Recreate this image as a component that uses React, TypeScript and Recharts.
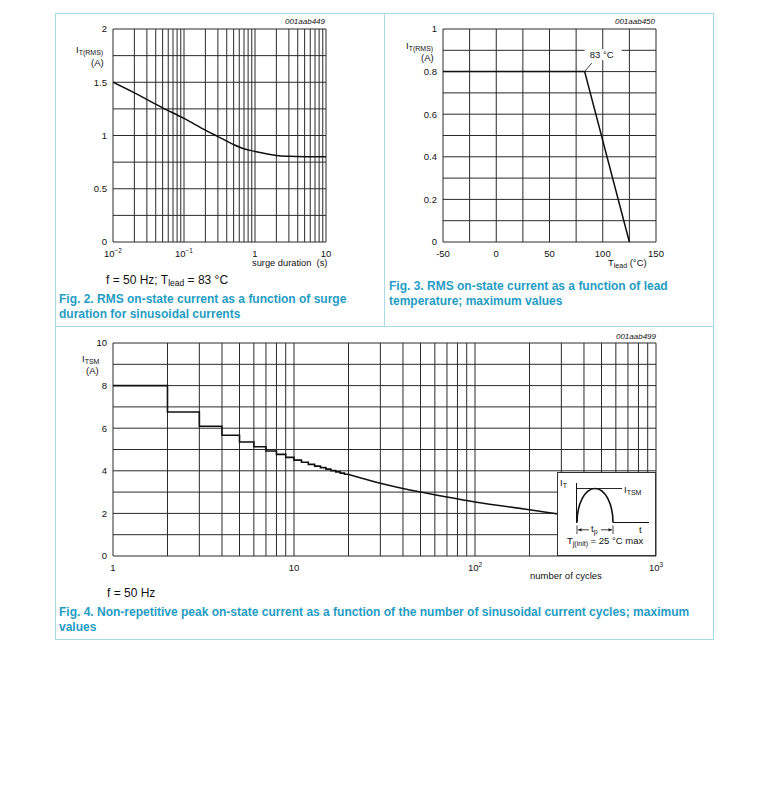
import { LineChart, Line, XAxis, YAxis, CartesianGrid, ReferenceDot } from "recharts";

// Fig. 2 - RMS on-state current vs surge duration
const surgeDuration = [0.01, 0.02, 0.05, 0.1, 0.2, 0.3, 0.5, 0.7, 1, 1.5, 2, 3, 5, 10];
const itRmsSurge = [1.5, 1.4, 1.26, 1.16, 1.05, 0.99, 0.915, 0.875, 0.85, 0.826, 0.812, 0.804, 0.8, 0.8];

// Fig. 3 - RMS on-state current vs lead temperature
const leadTemp = [-50, 83, 125];
const itRmsLead = [0.8, 0.8, 0];

// Fig. 4 - ITSM vs number of cycles (stepped part, then smooth part)
const stepCycles = [1, 2, 3, 4, 5, 6, 7, 8, 9, 10, 11, 12, 13, 14, 15, 16, 17, 18, 19, 20];
const itsmStep = [8.0, 6.76, 6.09, 5.67, 5.35, 5.13, 4.93, 4.77, 4.63, 4.5, 4.4, 4.3, 4.22, 4.15, 4.08, 4.01, 3.95, 3.89, 3.84, 3.83];
const curveCycles = [20, 30, 50, 70, 100, 200, 300];
const itsmCurve = [3.83, 3.42, 3.0, 2.77, 2.54, 2.17, 1.95];

// ticks / grid
const surgeTicks = [0.01, 0.02, 0.03, 0.04, 0.05, 0.06, 0.07, 0.08, 0.09, 0.1, 0.2, 0.3, 0.4, 0.5, 0.6, 0.7, 0.8, 0.9, 1, 2, 3, 4, 5, 6, 7, 8, 9, 10];
const surgeDecades = [0.01, 0.1, 1, 10];
const surgeDecadeLabels = [["10", "−2"], ["10", "−1"], ["1", ""], ["10", ""]];
const surgeYTicks = [0, 0.25, 0.5, 0.75, 1, 1.25, 1.5, 1.75, 2];
const surgeYLabels = [0, 0.5, 1, 1.5, 2];

const leadTicks = [-50, -25, 0, 25, 50, 75, 100, 125, 150];
const leadLabels = [-50, 0, 50, 100, 150];
const leadYTicks = [0, 0.1, 0.2, 0.3, 0.4, 0.5, 0.6, 0.7, 0.8, 0.9, 1];
const leadYLabels = [0, 0.2, 0.4, 0.6, 0.8, 1];

const cycleTicks = [1, 2, 3, 4, 5, 6, 7, 8, 9, 10, 20, 30, 40, 50, 60, 70, 80, 90, 100, 200, 300, 400, 500, 600, 700, 800, 900, 1000];
const cycleDecades = [1, 10, 100, 1000];
const cycleDecadeLabels = [["1", ""], ["10", ""], ["10", "2"], ["10", "3"]];
const itsmYTicks = [0, 1, 2, 3, 4, 5, 6, 7, 8, 9, 10];
const itsmYLabels = [0, 2, 4, 6, 8, 10];

const FONT = '"Liberation Sans", Arial, sans-serif';
const GRID = "#2a2a2a";
const INK = "#111";
const TEAL = "#1f9cc4";
const FRAME = "#a8dbe7";

const near = (a: number, b: number) => Math.abs(a - b) < Math.max(Math.abs(b), 1) * 1e-6;

const logTick = (decades: number[], labels: string[][]) => (props: any) => {
  const { x, y, payload } = props;
  const i = decades.findIndex((d) => near(payload.value, d));
  if (i < 0) return <g />;
  const [base, exp] = labels[i];
  return (
    <text x={x} y={y} dy="0.71em" textAnchor="middle" fontSize={9.5} fill={INK} fontFamily={FONT}>
      {base}
      {exp ? <tspan dy={-3.5} fontSize={6.5}>{exp}</tspan> : null}
    </text>
  );
};

const linTick = (shown: number[]) => (props: any) => {
  const { x, y, payload } = props;
  if (!shown.some((s) => near(payload.value, s))) return <g />;
  return (
    <text x={x} y={y} dy="0.71em" textAnchor="middle" fontSize={9.5} fill={INK} fontFamily={FONT}>
      {String(payload.value)}
    </text>
  );
};

const yTick = (shown: number[]) => (props: any) => {
  const { x, y, payload } = props;
  if (!shown.some((s) => near(payload.value, s))) return <g />;
  return (
    <text x={x} y={y} dy="0.355em" textAnchor="end" fontSize={9.5} fill={INK} fontFamily={FONT}>
      {String(payload.value)}
    </text>
  );
};

const Callout = (p: any) => {
  const { cx, cy } = p;
  return (
    <g>
      <line x1={cx} y1={cy} x2={cx + 7} y2={cy - 8.5} stroke={INK} strokeWidth={0.8} />
      <rect x={cx} y={cy - 22.5} width={37} height={11} fill="#fff" />
      <text x={cx + 17} y={cy - 17} dy="0.35em" textAnchor="middle" fontSize={9.5} fill={INK} fontFamily={FONT}>
        83 °C
      </text>
    </g>
  );
};

const txt = (left: number, top: number, size: number, extra: any = {}) => ({
  position: "absolute" as const,
  left,
  top,
  fontSize: size,
  lineHeight: 1,
  fontFamily: FONT,
  color: INK,
  whiteSpace: "nowrap" as const,
  ...extra,
});

const Sub = ({ children, size = 7 }: any) => (
  <span style={{ fontSize: size, position: "relative", top: 2 }}>{children}</span>
);

const caption = (left: number, top: number) => ({
  position: "absolute" as const,
  left,
  top,
  fontSize: 12,
  lineHeight: "15px",
  fontWeight: 700,
  fontFamily: FONT,
  color: TEAL,
  whiteSpace: "nowrap" as const,
});

const surgeData = surgeDuration.map((x, i) => ({ x, y: itRmsSurge[i] }));
const leadData = leadTemp.map((x, i) => ({ x, y: itRmsLead[i] }));
const stepData = stepCycles.map((x, i) => ({ x, y: itsmStep[i] }));
const curveData = curveCycles.map((x, i) => ({ x, y: itsmCurve[i] }));

const Inset = () => (
  <svg
    width={99}
    height={84}
    style={{ position: "absolute", left: 557, top: 472 }}
    fontFamily={FONT}
  >
    <rect x={0.5} y={0.5} width={98} height={83} fill="#fff" stroke="#333" strokeWidth={1} />
    <text x={3} y={14} fontSize={9.5} fill={INK}>
      I<tspan dy={2} fontSize={7}>T</tspan>
    </text>
    <line x1={19.5} y1={11} x2={19.5} y2={51} stroke={INK} strokeWidth={1} />
    <line x1={19.5} y1={16.5} x2={65} y2={16.5} stroke={INK} strokeWidth={0.9} />
    <text x={67} y={20.5} fontSize={9.5} fill={INK}>
      I<tspan dy={2} fontSize={7}>TSM</tspan>
    </text>
    <path d="M 20 50.5 A 18 34 0 0 1 56 50.5" fill="none" stroke={INK} strokeWidth={1.6} />
    <line x1={56} y1={50.5} x2={92} y2={50.5} stroke={INK} strokeWidth={1} />
    <text x={82} y={61} fontSize={9.5} fill={INK}>t</text>
    <line x1={20} y1={53.5} x2={20} y2={62} stroke={INK} strokeWidth={0.8} />
    <line x1={56} y1={53.5} x2={56} y2={62} stroke={INK} strokeWidth={0.8} />
    <line x1={21} y1={57.8} x2={32} y2={57.8} stroke={INK} strokeWidth={0.8} />
    <line x1={44} y1={57.8} x2={55} y2={57.8} stroke={INK} strokeWidth={0.8} />
    <path d="M 21 57.8 L 24.5 56.2 L 24.5 59.4 Z" fill={INK} />
    <path d="M 55 57.8 L 51.5 56.2 L 51.5 59.4 Z" fill={INK} />
    <text x={34} y={59.5} fontSize={9.5} fill={INK}>
      t<tspan dy={2} fontSize={7}>p</tspan>
    </text>
    <text x={10} y={71.5} fontSize={9.5} fill={INK}>
      T<tspan dy={2} fontSize={7}>j(init)</tspan>
      <tspan dy={-2}> = 25 °C max</tspan>
    </text>
  </svg>
);

export default function App() {
  return (
    <div style={{ position: "absolute", left: 0, top: 0, width: 772, height: 789, background: "#fff" }}>
      {/* panel frames */}
      <div style={{ position: "absolute", left: 55, top: 13, width: 659, height: 627, border: `1px solid ${FRAME}`, boxSizing: "border-box" }} />
      <div style={{ position: "absolute", left: 55, top: 326, width: 659, height: 1, background: FRAME }} />
      <div style={{ position: "absolute", left: 384, top: 13, width: 1, height: 313, background: FRAME }} />

      {/* Fig. 2 */}
      <div style={{ position: "absolute", left: 60, top: 14 }}>
        <LineChart width={280} height={260} margin={{ top: 15, right: 14, bottom: 12, left: 0 }}>
          <CartesianGrid stroke={GRID} strokeWidth={1} />
          <XAxis
            dataKey="x"
            type="number"
            scale="log"
            domain={[0.01, 10]}
            allowDataOverflow
            ticks={surgeTicks}
            interval={0}
            axisLine={false}
            tickLine={false}
            height={20}
            tick={logTick(surgeDecades, surgeDecadeLabels)}
          />
          <YAxis
            type="number"
            domain={[0, 2]}
            ticks={surgeYTicks}
            interval={0}
            axisLine={false}
            tickLine={false}
            tickSize={4}
            width={53}
            tick={yTick(surgeYLabels)}
          />
          <Line data={surgeData} dataKey="y" type="monotone" stroke={INK} strokeWidth={1.5} dot={false} isAnimationActive={false} />
        </LineChart>
      </div>
      <div style={txt(225, 18, 8, { width: 100, textAlign: "right", fontStyle: "italic" })}>001aab449</div>
      <div style={txt(76, 45, 9.5)}>I<Sub>T(RMS)</Sub></div>
      <div style={txt(91, 58, 9.5)}>(A)</div>
      <div style={txt(252, 258.5, 9.3)}>surge duration&nbsp; (s)</div>
      <div style={txt(106, 274, 12)}>
        f = 50 Hz; T<Sub size={8.5}>lead</Sub> = 83 °C
      </div>
      <div style={caption(59, 292)}>
        Fig. 2. RMS on-state current as a function of surge
        <br />
        duration for sinusoidal currents
      </div>

      {/* Fig. 3 */}
      <div style={{ position: "absolute", left: 390, top: 14 }}>
        <LineChart width={280} height={260} margin={{ top: 15, right: 14, bottom: 12, left: 0 }}>
          <CartesianGrid stroke={GRID} strokeWidth={1} />
          <XAxis
            dataKey="x"
            type="number"
            domain={[-50, 150]}
            ticks={leadTicks}
            interval={0}
            axisLine={false}
            tickLine={false}
            height={20}
            tick={linTick(leadLabels)}
          />
          <YAxis
            type="number"
            domain={[0, 1]}
            ticks={leadYTicks}
            interval={0}
            axisLine={false}
            tickLine={false}
            tickSize={4}
            width={53}
            tick={yTick(leadYLabels)}
          />
          <Line data={leadData} dataKey="y" type="linear" stroke={INK} strokeWidth={1.5} dot={false} isAnimationActive={false} />
          <ReferenceDot x={83} y={0.8} r={0} shape={(p: any) => <Callout {...p} />} />
        </LineChart>
      </div>
      <div style={txt(555, 18, 8, { width: 100, textAlign: "right", fontStyle: "italic" })}>001aab450</div>
      <div style={txt(406, 41, 9.5)}>I<Sub>T(RMS)</Sub></div>
      <div style={txt(421, 53, 9.5)}>(A)</div>
      <div style={txt(608, 258, 9.5)}>
        T<Sub size={7}>lead</Sub> (°C)
      </div>
      <div style={caption(389, 279)}>
        Fig. 3. RMS on-state current as a function of lead
        <br />
        temperature; maximum values
      </div>

      {/* Fig. 4 */}
      <div style={{ position: "absolute", left: 60, top: 328 }}>
        <LineChart width={610} height={260} margin={{ top: 15, right: 14, bottom: 12, left: 0 }}>
          <CartesianGrid stroke={GRID} strokeWidth={1} />
          <XAxis
            dataKey="x"
            type="number"
            scale="log"
            domain={[1, 1000]}
            allowDataOverflow
            ticks={cycleTicks}
            interval={0}
            axisLine={false}
            tickLine={false}
            height={20}
            tick={logTick(cycleDecades, cycleDecadeLabels)}
          />
          <YAxis
            type="number"
            domain={[0, 10]}
            ticks={itsmYTicks}
            interval={0}
            axisLine={false}
            tickLine={false}
            tickSize={4}
            width={53}
            tick={yTick(itsmYLabels)}
          />
          <Line data={stepData} dataKey="y" type="stepAfter" stroke={INK} strokeWidth={1.6} dot={false} isAnimationActive={false} />
          <Line data={curveData} dataKey="y" type="monotone" stroke={INK} strokeWidth={1.5} dot={false} isAnimationActive={false} />
        </LineChart>
      </div>
      <Inset />
      <div style={txt(556, 332.5, 8, { width: 100, textAlign: "right", fontStyle: "italic" })}>001aab499</div>
      <div style={txt(82, 354, 9.5)}>I<Sub>TSM</Sub></div>
      <div style={txt(86, 366, 9.5)}>(A)</div>
      <div style={txt(530, 570.5, 9.5)}>number of cycles</div>
      <div style={txt(107, 587, 12)}>f = 50 Hz</div>
      <div style={caption(59, 605)}>
        Fig. 4. Non-repetitive peak on-state current as a function of the number of sinusoidal current cycles; maximum
        <br />
        values
      </div>
    </div>
  );
}
